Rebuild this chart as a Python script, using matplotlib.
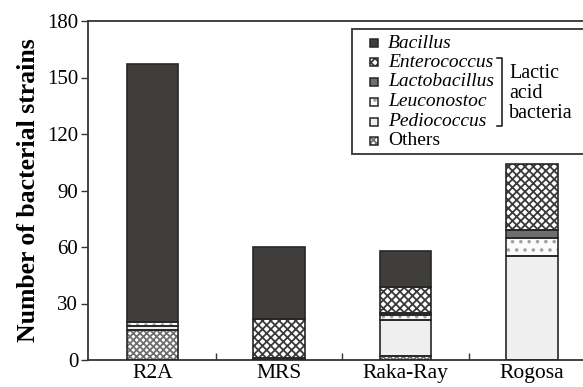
import matplotlib
matplotlib.use('Agg')
import matplotlib.pyplot as plt
from matplotlib.patches import Rectangle
from matplotlib.lines import Line2D
import numpy as np

# number of strains per isolation medium, stacked bottom -> top
media = ['R2A', 'MRS', 'Raka-Ray', 'Rogosa']
others = [16, 1, 2, 0]
pediococcus = [2, 0, 19, 55]
leuconostoc = [2, 0, 3, 10]
lactobacillus = [0, 0, 1, 4]
enterococcus = [0, 21, 14, 35]
bacillus = [137, 38, 19, 0]

legend_names = ['Bacillus', 'Enterococcus', 'Lactobacillus',
                'Leuconostoc', 'Pediococcus', 'Others']

plt.rcParams['font.family'] = ['Liberation Serif', 'DejaVu Serif']
plt.rcParams['hatch.linewidth'] = 1.3

EDGE = '#262626'
# facecolor, hatch, hatch colour
styles = {
    'Bacillus': ('#3f3e3c', None, None),
    'Enterococcus': ('white', 'xxxx', '#3a3a3a'),
    'Lactobacillus': ('#6e6e6e', None, None),
    'Leuconostoc': ('#fbfbfb', '..', '#a0a0a0'),
    'Pediococcus': ('#efefef', None, None),
    'Others': ('white', 'xxxxx', '#6f6f6f'),
}

stack = [('Others', others), ('Pediococcus', pediococcus),
         ('Leuconostoc', leuconostoc), ('Lactobacillus', lactobacillus),
         ('Enterococcus', enterococcus), ('Bacillus', bacillus)]

W, H = 583, 387
fig = plt.figure(figsize=(W / 100, H / 100), dpi=100)
left_px, right_px, top_px, bot_px = 88, 592, 21, 360
ax = fig.add_axes([left_px / W, (H - bot_px) / H,
                   (right_px - left_px) / W, (bot_px - top_px) / H])

x = np.arange(len(media))
width = 0.405
bottom = np.zeros(len(media))
for name, vals in stack:
    vals = np.array(vals, dtype=float)
    fc, hatch, hc = styles[name]
    mask = vals > 0
    if hatch:
        ax.bar(x[mask], vals[mask], width, bottom=bottom[mask], color=fc,
               hatch=hatch, edgecolor=hc, linewidth=0, zorder=2)
    else:
        ax.bar(x[mask], vals[mask], width, bottom=bottom[mask], color=fc,
               linewidth=0, zorder=2)
    ax.bar(x[mask], vals[mask], width, bottom=bottom[mask], fill=False,
           edgecolor=EDGE, linewidth=1.2, zorder=3)
    bottom += vals

# axes styling
px_per_cat = 126.5
x0 = -(152.5 - left_px) / px_per_cat
ax.set_xlim(x0, x0 + (right_px - left_px) / px_per_cat)
ax.set_ylim(0, 180)
ax.set_yticks(np.arange(0, 181, 30))
ax.set_xticks(x)
ax.set_xticklabels(media)
ax.set_xticks(x[:-1] + 0.5, minor=True)
ax.tick_params(axis='x', which='major', length=0, labelsize=15.5, pad=3)
ax.tick_params(axis='x', which='minor', direction='in', length=5, width=1.0, color='#333')
ax.tick_params(axis='y', direction='out', length=5, width=1.0, color='#333',
               labelsize=15, pad=2)
for s in ['left', 'bottom', 'top']:
    ax.spines[s].set_linewidth(1.3)
    ax.spines[s].set_color('#333')
ax.spines['right'].set_visible(False)
ax.set_ylabel('Number of bacterial strains', fontsize=18.5, fontweight='bold', labelpad=5)


# manual legend, placed in pixel coordinates
def fx(px):
    return (px - left_px) / (right_px - left_px)


def fy(py):
    return (bot_px - py) / (bot_px - top_px)


T = ax.transAxes
ax.add_patch(Rectangle((fx(352), fy(154)), fx(640) - fx(352), fy(28.5) - fy(154),
                       transform=T, facecolor='white', edgecolor='#333',
                       linewidth=1.3, zorder=5, clip_on=False))
rows = [43.3, 62.3, 81.7, 101.7, 121.7, 140.7]
sq = 8
for name, py in zip(legend_names, rows):
    fc, hatch, hc = styles[name]
    r = Rectangle((fx(374 - sq / 2), fy(py + sq / 2)), fx(374 + sq / 2) - fx(374 - sq / 2),
                  fy(py - sq / 2) - fy(py + sq / 2), transform=T, facecolor=fc,
                  hatch=hatch, edgecolor=hc if hatch else fc, linewidth=0, zorder=6)
    ax.add_patch(r)
    ax.add_patch(Rectangle(r.get_xy(), r.get_width(), r.get_height(), transform=T,
                           fill=False, edgecolor=EDGE, linewidth=1.1, zorder=7))
    style = 'normal' if name == 'Others' else 'italic'
    ax.text(fx(388), fy(py), name, transform=T, fontsize=14, style=style,
            ha='left', va='center', zorder=8)

# bracket for lactic acid bacteria
bx = fx(502)
ax.add_line(Line2D([fx(497), bx, bx, fx(497)], [fy(58), fy(58), fy(126), fy(126)],
                   transform=T, color='#222', linewidth=1.2, zorder=8))
for txt, py in [('Lactic', 74), ('acid', 93.5), ('bacteria', 113)]:
    ax.text(fx(509), fy(py), txt, transform=T, fontsize=14.5, ha='left',
            va='center', zorder=8)

fig.savefig('out.png', dpi=100)
